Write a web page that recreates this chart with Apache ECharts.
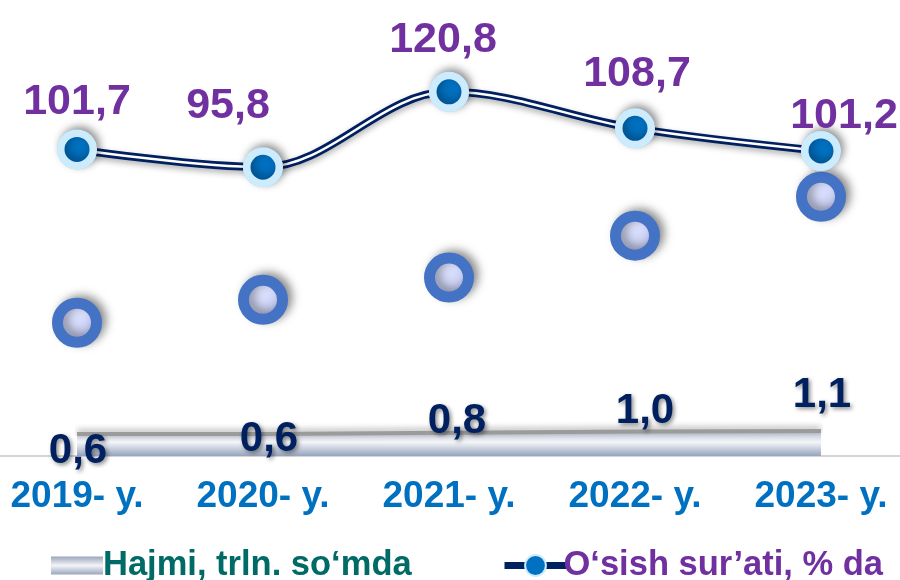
<!DOCTYPE html>
<html>
<head>
<meta charset="utf-8">
<script src="https://cdn.jsdelivr.net/npm/echarts@6/dist/echarts.min.js"></script>
<style>
html,body{margin:0;padding:0;background:#fff;}
#chart{width:900px;height:580px;}
</style>
</head>
<body>
<div id="chart"></div>
<script>
const categories = ['2019- y.', '2020- y.', '2021- y.', '2022- y.', '2023- y.'];
const hajmi = [0.6, 0.6, 0.8, 1.0, 1.1];
const osish = [101.7, 95.8, 120.8, 108.7, 101.2];
const circleLevels = [44.2, 51.8, 59.2, 73.1, 86.0];
const hajmiName = 'Hajmi, trln. so‘mda';
const osishName = 'O‘sish sur’ati, % da';

// label placement tweaks (style, not data)
const hajmiLabelOffsets = [[1, 17], [6, 5], [8, -11], [10, -20], [1, -36]];
const osishLabelOffsets = [[0, -47], [-35, -61], [-6, -52], [2, -54], [23, -35]];

const fmt = v => v.toFixed(1).replace('.', ',');
const FONT = 'Liberation Sans, Arial, sans-serif';

const chart = echarts.init(document.getElementById('chart'), null, {renderer: 'canvas'});

const option = {
  backgroundColor: '#ffffff',
  animation: false,
  grid: {left: 77, right: 79, top: 34, bottom: 124},
  xAxis: {
    type: 'category',
    data: categories,
    boundaryGap: false,
    axisLine: {show: false},
    axisTick: {show: false},
    splitLine: {show: false},
    axisLabel: {
      color: '#0070C0',
      fontFamily: FONT,
      fontWeight: 'bold',
      fontSize: 37,
      margin: 22
    }
  },
  yAxis: [
    {type: 'value', min: 0, max: 140, show: false, splitLine: {show: false}},
    {type: 'value', min: -3, max: 66, show: false, splitLine: {show: false}}
  ],
  legend: [
    {
      left: 46, top: 543,
      itemWidth: 52, itemHeight: 18, itemGap: 5,
      textStyle: {color: '#006B66', fontFamily: FONT, fontWeight: 'bold', fontSize: 34.5, padding: [0,0,0,-5]},
      data: [{
        name: hajmiName,
        icon: 'rect',
        itemStyle: {
          color: new echarts.graphic.LinearGradient(0, 0, 0, 1, [
            {offset: 0, color: '#9aa6bd'},
            {offset: 0.5, color: '#f3f4f7'},
            {offset: 1, color: '#9aa6bd'}
          ])
        }
      }]
    },
    {
      left: 496, top: 543,
      itemWidth: 62, itemHeight: 26, itemGap: 5,
      lineStyle: {width: 7, color: '#002060'},
      textStyle: {color: '#7030A0', fontFamily: FONT, fontWeight: 'bold', fontSize: 34.5, padding: [0,0,0,-8]},
      data: [{name: osishName}]
    }
  ],
  graphic: [{
    type: 'line',
    shape: {x1: 0, y1: 456, x2: 900, y2: 456},
    style: {stroke: '#d4d4d4', lineWidth: 2},
    z: 0
  }],
  series: [
    {
      name: hajmiName,
      type: 'line',
      yAxisIndex: 1,
      data: hajmi,
      z: 1,
      symbol: 'circle',
      symbolSize: 1,
      showSymbol: true,
      itemStyle: {color: 'rgba(0,0,0,0)'},
      lineStyle: {color: '#9b9b9b', width: 4, shadowBlur: 6, shadowColor: 'rgba(0,0,0,0.35)', shadowOffsetY: -2},
      areaStyle: {
        origin: 'start',
        opacity: 1,
        color: new echarts.graphic.LinearGradient(0, 0, 0, 1, [
          {offset: 0, color: '#b8c1d2'},
          {offset: 0.45, color: '#f4f5f8'},
          {offset: 1, color: '#95a3bd'}
        ])
      },
      label: {
        show: true,
        position: 'inside',
        formatter: p => fmt(p.value),
        color: '#002060',
        fontFamily: FONT,
        fontWeight: 'bold',
        fontSize: 42,
        textShadowColor: 'rgba(0,0,0,0.45)',
        textShadowBlur: 4,
        textShadowOffsetX: 2,
        textShadowOffsetY: 2
      },
      labelLayout: p => ({dx: hajmiLabelOffsets[p.dataIndex][0], dy: hajmiLabelOffsets[p.dataIndex][1]})
    },
    {
      name: 'circles',
      type: 'scatter',
      yAxisIndex: 0,
      data: circleLevels,
      z: 3,
      symbol: 'circle',
      symbolSize: 39,
      itemStyle: {
        opacity: 1,
        color: new echarts.graphic.LinearGradient(0, 0, 1, 1, [
          {offset: 0, color: '#e6eaff'},
          {offset: 0.5, color: '#d6dcfb'},
          {offset: 1, color: '#aeb4e2'}
        ]),
        borderColor: '#4472C4',
        borderWidth: 11,
        shadowBlur: 10,
        shadowColor: 'rgba(0,0,0,0.35)',
        shadowOffsetX: 5,
        shadowOffsetY: -3
      },
      emphasis: {disabled: true}
    },
    {
      name: osishName,
      type: 'line',
      yAxisIndex: 0,
      data: osish,
      z: 4,
      smooth: 0.35,
      symbol: 'circle',
      symbolSize: 32.5,
      itemStyle: {color: '#0070C0', borderColor: '#CCEBFC', borderWidth: 7.5},
      lineStyle: {color: '#002060', width: 8, shadowBlur: 6, shadowColor: 'rgba(0,0,0,0.3)', shadowOffsetY: 3}
    },
    {
      name: 'inner',
      type: 'line',
      yAxisIndex: 0,
      data: osish,
      z: 5,
      smooth: 0.35,
      symbol: 'none',
      lineStyle: {color: '#ffffff', width: 2.5}
    },
    {
      name: 'markers',
      type: 'scatter',
      yAxisIndex: 0,
      data: osish,
      z: 6,
      symbol: 'circle',
      symbolSize: 32.5,
      itemStyle: {
        opacity: 1,
        color: '#0070C0',
        borderColor: '#CCEBFC',
        borderWidth: 7.5,
        shadowBlur: 8,
        shadowColor: 'rgba(0,0,0,0.35)',
        shadowOffsetX: 3,
        shadowOffsetY: -3
      },
      emphasis: {disabled: true},
      label: {
        show: true,
        position: 'inside',
        formatter: p => fmt(p.value),
        color: '#7030A0',
        fontFamily: FONT,
        fontWeight: 'bold',
        fontSize: 43
      },
      labelLayout: p => ({dx: osishLabelOffsets[p.dataIndex][0], dy: osishLabelOffsets[p.dataIndex][1]})
    }
  ]
};
chart.setOption(option);
</script>
</body>
</html>
